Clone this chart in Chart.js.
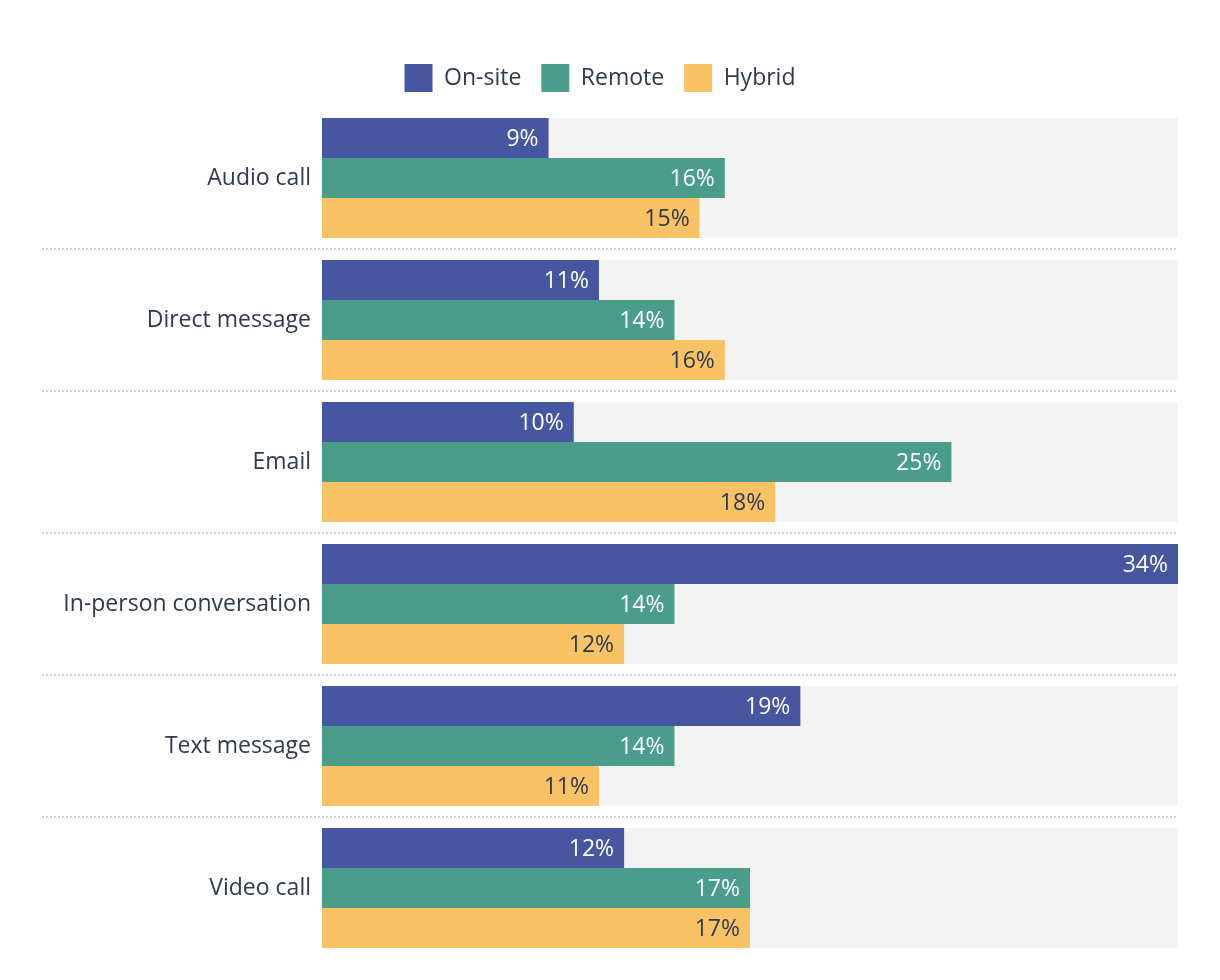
<!DOCTYPE html>
<html>
<head>
<meta charset="utf-8">
<script src="https://cdn.jsdelivr.net/npm/chart.js@4"></script>
<style>
  html, body { margin: 0; padding: 0; background: #fff; }
  #wrap { width: 1220px; height: 980px; position: relative; }
</style>
</head>
<body>
<div id="wrap"><canvas id="chart"></canvas></div>
<script>
const categories = ["Audio call", "Direct message", "Email", "In-person conversation", "Text message", "Video call"];
const seriesNames = ["On-site", "Remote", "Hybrid"];
const onSite = [9, 11, 10, 34, 19, 12];
const remote = [16, 14, 25, 14, 14, 17];
const hybrid = [15, 16, 18, 12, 11, 17];
const colors = ["#4656a0", "#4a9d8a", "#f9c265"];
const labelColors = ["#ffffff", "#ffffff", "#2e3a4e"];

const FONT = "'Open Sans', 'Noto Sans', sans-serif";
const textColor = "#2e3a4e";

// fixed legend height so the plot lands where the original has it
const legendHeight = {
  id: "legendHeight",
  beforeInit(chart) {
    const fit = chart.legend.fit;
    chart.legend.fit = function () {
      fit.bind(chart.legend)();
      this.height = 63;
    };
  }
};

// gray band behind each group + dotted separators
const bandPlugin = {
  id: "bands",
  beforeDatasetsDraw(chart) {
    const { ctx, chartArea } = chart;
    const first = chart.getDatasetMeta(0).data;
    const last = chart.getDatasetMeta(chart.data.datasets.length - 1).data;
    ctx.save();
    ctx.fillStyle = "#f3f3f3";
    for (let i = 0; i < first.length; i++) {
      const top = first[i].y - first[i].height / 2;
      const bottom = last[i].y + last[i].height / 2;
      ctx.fillRect(chartArea.left, top, chartArea.right - chartArea.left, bottom - top);
    }
    const yScale = chart.scales.y;
    ctx.strokeStyle = "#d2d2d2";
    ctx.lineWidth = 2;
    ctx.setLineDash([2, 2]);
    for (let i = 0; i < categories.length - 1; i++) {
      const y = Math.round((yScale.getPixelForValue(i) + yScale.getPixelForValue(i + 1)) / 2);
      ctx.beginPath();
      ctx.moveTo(42, y);
      ctx.lineTo(chartArea.right, y);
      ctx.stroke();
    }
    ctx.restore();
  }
};

// value labels inside bar ends
const valuePlugin = {
  id: "values",
  afterDatasetsDraw(chart) {
    const { ctx } = chart;
    ctx.save();
    ctx.font = "23px " + FONT;
    ctx.textAlign = "right";
    ctx.textBaseline = "middle";
    chart.data.datasets.forEach((ds, di) => {
      chart.getDatasetMeta(di).data.forEach((bar, i) => {
        ctx.fillStyle = labelColors[di];
        ctx.fillText(ds.data[i] + "%", bar.x - 10, bar.y + 1);
      });
    });
    ctx.restore();
  }
};

new Chart(document.getElementById("chart"), {
  type: "bar",
  data: {
    labels: categories,
    datasets: [onSite, remote, hybrid].map((d, i) => ({
      label: seriesNames[i],
      data: d,
      backgroundColor: colors[i],
      categoryPercentage: 120 / 142,
      barPercentage: 1,
      borderWidth: 0
    }))
  },
  options: {
    indexAxis: "y",
    responsive: true,
    maintainAspectRatio: false,
    animation: false,
    layout: { padding: { top: 44, right: 42, bottom: 21, left: 22 } },
    plugins: {
      legend: {
        position: "top",
        labels: {
          boxWidth: 28,
          boxHeight: 28,
          padding: 20,
          color: textColor,
          font: { family: FONT, size: 23 }
        }
      },
      tooltip: { enabled: false }
    },
    scales: {
      x: { display: false, min: 0, max: 34 },
      y: {
        grid: { display: false, drawTicks: false },
        border: { display: false },
        ticks: {
          color: textColor,
          padding: 11,
          font: { family: FONT, size: 23, lineHeight: 0.8 }
        },
        afterFit(scale) { scale.width = 300; }
      }
    }
  },
  plugins: [legendHeight, bandPlugin, valuePlugin]
});
</script>
</body>
</html>
